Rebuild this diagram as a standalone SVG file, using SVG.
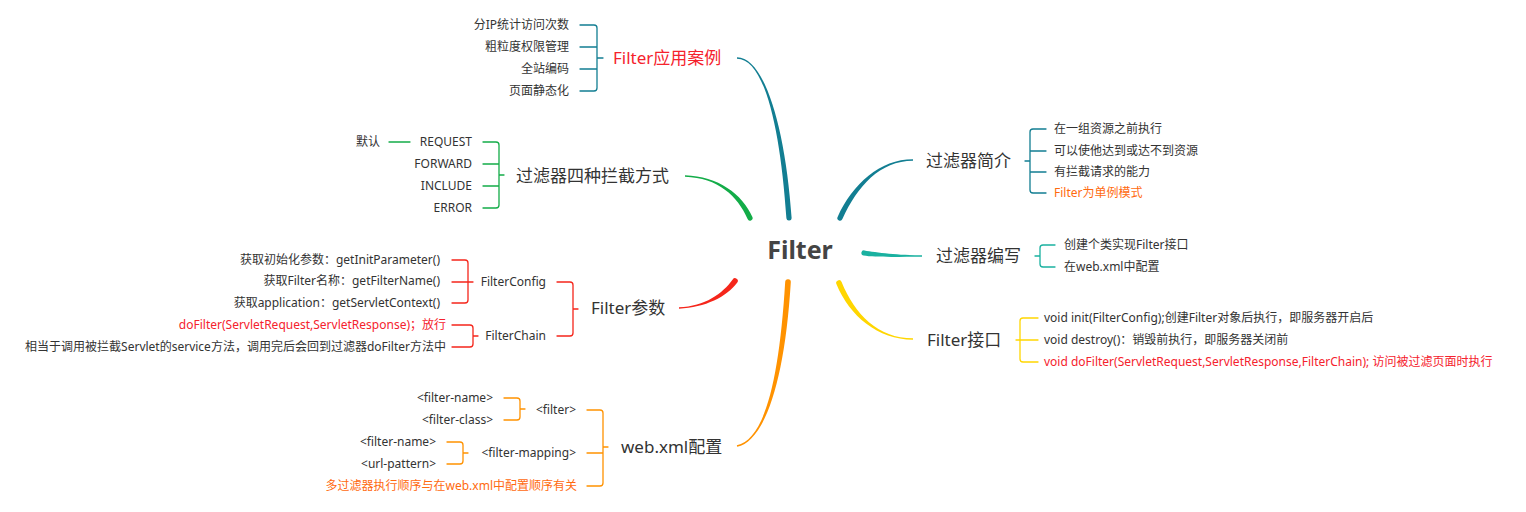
<svg xmlns="http://www.w3.org/2000/svg" width="1526" height="512" viewBox="0 0 1526 512">
<style>
text{font-family:"Noto Sans","Noto Sans CJK SC",sans-serif;fill:#333}
.leaf{font-size:12px}
.main{font-size:17px}
.end{text-anchor:end}
.red{fill:#F5222D}
.org{fill:#FF6A0F}
.br{fill:none;stroke-width:1.3;stroke-linecap:round;stroke-linejoin:round}
.teal{stroke:#127E92}
.grn{stroke:#13AC48}
.rd{stroke:#F5261B}
.or{stroke:#FF9200}
.tg{stroke:#1AB1A0}
.yl{stroke:#FFD600}
</style>
<rect width="1526" height="512" fill="#fff"/>
<g id="connectors">
<path fill="#127E92" d="M737,58.75 C765,58.75 780.4,130.2 786.4,218.2 A2.6,2.6 0 0 0 791.6,217.8 C785.6,129.8 765,57.25 737,57.25 Z"/>
<path fill="#13AC48" d="M685,176.75 C718,177.75 737.6,196 747.6,219 A2.6,2.6 0 0 0 752.4,217 C742.4,194 718,176.25 685,175.25 Z"/>
<path fill="#127E92" d="M913,159.25 C880,159.25 852.6,183.9 837.6,216.9 A2.6,2.6 0 0 0 842.4,219.1 C857.4,186.1 880,160.75 913,160.75 Z"/>
<path fill="#1AB1A0" d="M922,255.25 C900,255.25 875.5,252.4 864.5,250.4 A2.6,2.6 0 0 0 863.5,255.6 C874.5,257.6 900,256.75 922,256.75 Z"/>
<path fill="#F5261B" d="M679,308.75 C705,307.75 727.3,296.6 737.3,282.6 A2.8,2.8 0 0 0 732.7,279.4 C722.7,293.4 705,306.25 679,307.25 Z"/>
<path fill="#FF9200" d="M737.16,446.73 C765.16,440.73 784.8,380.2 790.8,282.2 A2.8,2.8 0 0 0 785.2,281.8 C779.2,379.8 764.84,439.27 736.84,445.27 Z"/>
<path fill="#FFD600" d="M913,338.25 C878,338.25 854.6,313.9 841.6,281.9 A2.8,2.8 0 0 0 836.4,284.1 C849.4,316.1 878,339.75 913,339.75 Z"/>
</g>
<g id="root">
<text x="800" y="259" text-anchor="middle" style="font-size:25px;font-weight:bold;fill:#444">Filter</text>
</g>
<g id="n-cases">
<text class="main red" x="613" y="64">Filter应用案例</text>
<path class="br teal" d="M580,25 H594 Q597,25 597,28 V88 Q597,91 594,91 H580 M580,47 H597 M580,69 H597 M597,58 H603"/>
<text class="leaf end" x="569" y="29">分IP统计访问次数</text>
<text class="leaf end" x="569" y="51">粗粒度权限管理</text>
<text class="leaf end" x="569" y="73">全站编码</text>
<text class="leaf end" x="569" y="95">页面静态化</text>
</g>
<g id="n-dispatch">
<text class="main" x="516" y="182">过滤器四种拦截方式</text>
<path class="br grn" d="M483,142 H496 Q499,142 499,145 V205 Q499,208 496,208 H483 M483,164 H499 M483,186 H499 M499,175 H504 M389,142 H410"/>
<text class="leaf end" x="472" y="146">REQUEST</text>
<text class="leaf end" x="472" y="168">FORWARD</text>
<text class="leaf end" x="472" y="190">INCLUDE</text>
<text class="leaf end" x="472" y="212">ERROR</text>
<text class="leaf end" x="380" y="146">默认</text>
</g>
<g id="n-params">
<text class="main" x="591" y="314">Filter参数</text>
<path class="br rd" d="M557,282 H570 Q573,282 573,285 V333 Q573,336 570,336 H557 M573,309 H578"/>
<text class="leaf end" x="546" y="286">FilterConfig</text>
<path class="br rd" d="M452,260 H465 Q468,260 468,263 V300 Q468,303 465,303 H452 M452,282 H468 M468,282 H473"/>
<text class="leaf end" x="440" y="264">获取初始化参数：getInitParameter()</text>
<text class="leaf end" x="440" y="285">获取Filter名称：getFilterName()</text>
<text class="leaf end" x="440" y="307">获取application：getServletContext()</text>
<text class="leaf end" x="546" y="340">FilterChain</text>
<path class="br rd" d="M452,325 H470 Q473,325 473,328 V344 Q473,347 470,347 H452 M473,336 H478"/>
<text class="leaf end red" x="446" y="329">doFilter(ServletRequest,ServletResponse)；放行</text>
<text class="leaf end" x="446" y="351">相当于调用被拦截Servlet的service方法，调用完后会回到过滤器doFilter方法中</text>
</g>
<g id="n-webxml">
<text class="main" x="621" y="453">web.xml配置</text>
<path class="br or" d="M587,410 H600 Q603,410 603,413 V483 Q603,486 600,486 H587 M587,453 H603 M603,447 H608"/>
<text class="leaf end" x="576" y="414">&lt;filter&gt;</text>
<path class="br or" d="M504,398 H517 Q520,398 520,401 V417 Q520,420 517,420 H504 M520,409 H525"/>
<text class="leaf end" x="493" y="402">&lt;filter-name&gt;</text>
<text class="leaf end" x="493" y="424">&lt;filter-class&gt;</text>
<text class="leaf end" x="576" y="457">&lt;filter-mapping&gt;</text>
<path class="br or" d="M447,442 H460 Q463,442 463,445 V461 Q463,464 460,464 H447 M463,453 H468"/>
<text class="leaf end" x="436" y="446">&lt;filter-name&gt;</text>
<text class="leaf end" x="436" y="468">&lt;url-pattern&gt;</text>
<text class="leaf end org" x="577" y="490">多过滤器执行顺序与在web.xml中配置顺序有关</text>
</g>
<g id="n-intro">
<text class="main" x="926" y="167">过滤器简介</text>
<path class="br teal" d="M1046,129 H1033 Q1030,129 1030,132 V190 Q1030,193 1033,193 H1046 M1030,151 H1046 M1030,172 H1046 M1025,161 H1030"/>
<text class="leaf" x="1054" y="133">在一组资源之前执行</text>
<text class="leaf" x="1054" y="155">可以使他达到或达不到资源</text>
<text class="leaf" x="1054" y="176">有拦截请求的能力</text>
<text class="leaf org" x="1054" y="197">Filter为单例模式</text>
</g>
<g id="n-write">
<text class="main" x="936" y="262">过滤器编写</text>
<path class="br tg" d="M1055,245 H1043 Q1040,245 1040,248 V264 Q1040,267 1043,267 H1055 M1035,256 H1040"/>
<text class="leaf" x="1064" y="249">创建个类实现Filter接口</text>
<text class="leaf" x="1064" y="271">在web.xml中配置</text>
</g>
<g id="n-iface">
<text class="main" x="927" y="346">Filter接口</text>
<path class="br yl" d="M1038,318 H1023 Q1020,318 1020,321 V359 Q1020,362 1023,362 H1038 M1020,340 H1038 M1016,340 H1020"/>
<text class="leaf" x="1044" y="322">void init(FilterConfig);创建Filter对象后执行，即服务器开启后</text>
<text class="leaf" x="1044" y="344">void destroy()：销毁前执行，即服务器关闭前</text>
<text class="leaf red" x="1044" y="366">void doFilter(ServletRequest,ServletResponse,FilterChain); 访问被过滤页面时执行</text>
</g>
</svg>
